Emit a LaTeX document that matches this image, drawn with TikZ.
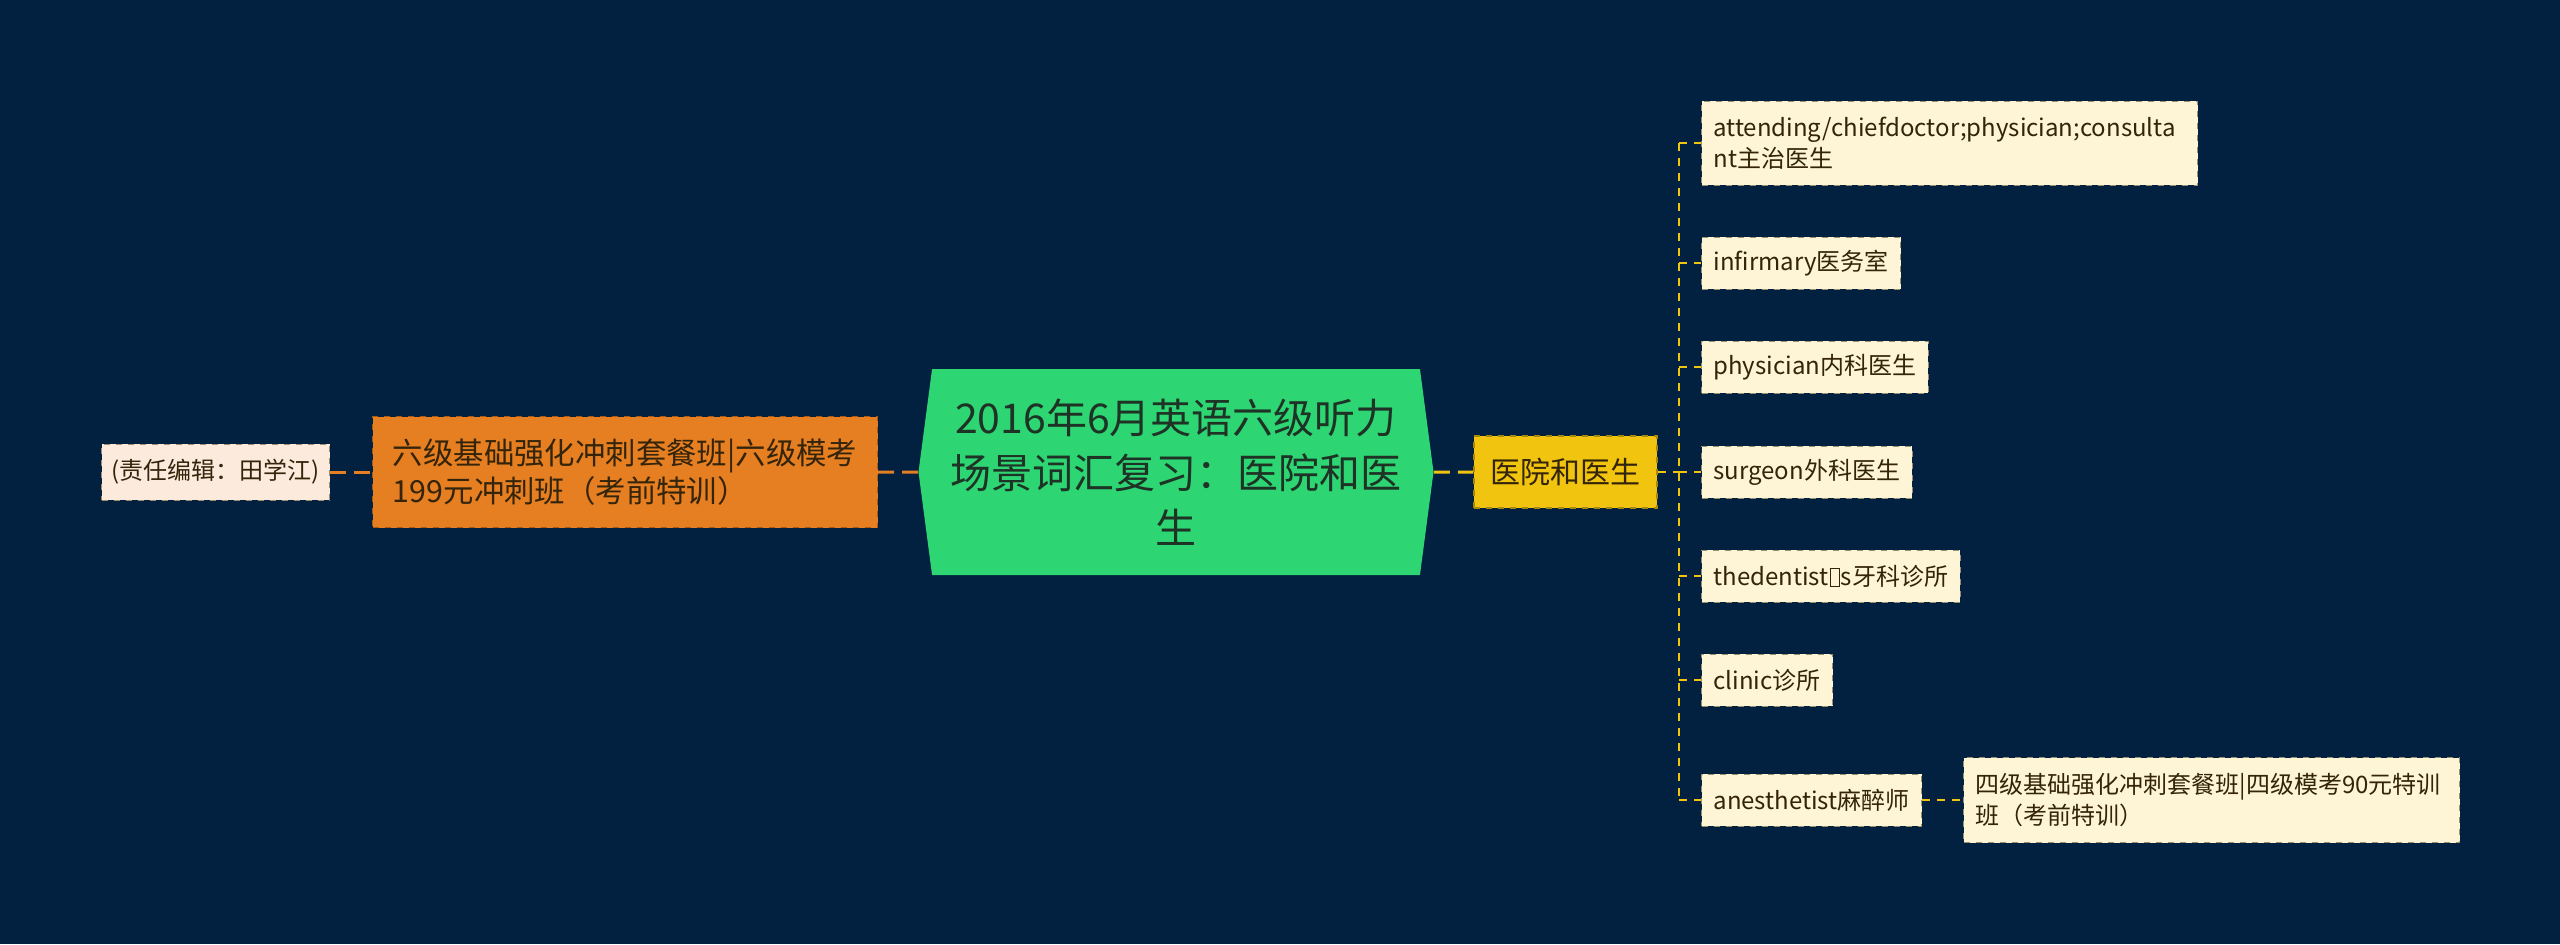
\documentclass[tikz,border=0pt]{standalone}
\usepackage{fontspec}
\setmainfont{Noto Sans CJK SC}
\usepackage{xcolor}
\usetikzlibrary{shapes.symbols,positioning}
\definecolor{mmnavy}{HTML}{022140}
\definecolor{mmgreen}{HTML}{2ED573}
\definecolor{mmroottext}{HTML}{1E3326}
\definecolor{mmorange}{HTML}{E67E22}
\definecolor{mmorangeline}{HTML}{A85A14}
\definecolor{mmyellow}{HTML}{F1C40F}
\definecolor{mmyellowline}{HTML}{A8880A}
\definecolor{mmcream}{HTML}{FEF5D6}
\definecolor{mmblush}{HTML}{FCEBDD}
\definecolor{mmleafline}{HTML}{9A9070}
\definecolor{mmink}{HTML}{33240A}
\newcommand{\glyphbox}{{\setlength{\fboxsep}{0pt}\setlength{\fboxrule}{0.4pt}\kern0.04em\raisebox{-0.02em}{\fbox{\rule{0pt}{0.68em}\hspace{0.36em}}}\kern0.04em}}
\tikzset{
mmroot/.style={signal,signal to=east and west,signal pointer angle=165,fill=mmgreen,text=mmroottext,align=center,minimum width=257.5pt,minimum height=103pt,inner sep=0pt,font=\fontsize{20.5pt}{27.5pt}\selectfont},
mmbranch/.style={rectangle,draw=mmorangeline,dashed,line width=0.6pt,fill=mmorange,text=mmink,align=left,minimum width=252.5pt,minimum height=55.5pt,inner xsep=8pt,font=\fontsize{15.2pt}{18.8pt}\selectfont},
mmtopic/.style={rectangle,draw=mmyellowline,dashed,line width=0.6pt,fill=mmyellow,text=mmink,minimum width=91.5pt,minimum height=36pt,font=\fontsize{15pt}{18.8pt}\selectfont},
mmnote/.style={rectangle,draw=mmleafline,dashed,line width=0.5pt,fill=mmblush,text=mmink,minimum height=28pt,inner xsep=5pt,font=\fontsize{12pt}{15.5pt}\selectfont},
mmleaf/.style={rectangle,draw=mmleafline,dashed,line width=0.5pt,fill=mmcream,text=mmink,align=left,minimum height=26pt,inner xsep=6pt,anchor=west,font=\fontsize{12pt}{15.5pt}\selectfont},
mmlinkorange/.style={draw=mmorange,line width=1.5pt,dash pattern=on 8pt off 4pt},
mmlinkyellow/.style={draw=mmyellow,line width=1.5pt,dash pattern=on 8pt off 4pt},
mmleaflink/.style={draw=mmyellow,line width=0.9pt,dash pattern=on 4pt off 3.5pt}
}
\begin{document}
\begin{tikzpicture}[
x=0.5pt,
y=-0.5pt
]
\fill[mmnavy] (0,0) rectangle (2560,944);
% centre and left side
\node[mmroot] (root) at (1176,472) {2016年6月英语六级听力\\场景词汇复习：医院和医\\生};
\node[mmbranch,anchor=west] (course) at (372,472) {六级基础强化冲刺套餐班|六级模考\\199元冲刺班（考前特训）};
\node[mmnote,anchor=west] (editor) at (101,472) {(责任编辑：田学江)};
% right side
\node[mmtopic] (hospital) at (1565.5,472) {医院和医生};
\coordinate (spine) at (1679,472);
\node[mmleaf,minimum height=42pt,text width=236pt] (attending) at (1701,143) {attending/chiefdoctor;physician;consulta\\nt主治医生};
\node[mmleaf] (infirmary) at (1701,263) {infirmary医务室};
\node[mmleaf] (physician) at (1701,367) {physician内科医生};
\node[mmleaf] (surgeon) at (1701,472) {surgeon外科医生};
\node[mmleaf] (dentist) at (1701,576) {thedentist\glyphbox s牙科诊所};
\node[mmleaf] (clinic) at (1701,680) {clinic诊所};
\node[mmleaf] (anesthetist) at (1701,800) {anesthetist麻醉师};
\node[mmleaf,minimum height=42.5pt,text width=236pt] (band4) at (1963,800) {四级基础强化冲刺套餐班|四级模考90元特训\\班（考前特训）};
\draw[mmlinkorange] (editor) -- (course);
\draw[mmlinkorange] (course) -- (root);
\draw[mmlinkyellow] (root) -- (hospital);
\draw[mmleaflink] (hospital) -- (spine);
\draw[mmleaflink] (spine |- attending.west) -- (spine |- anesthetist.west);
\foreach \leaf in {attending,infirmary,physician,surgeon,dentist,clinic,anesthetist}
  \draw[mmleaflink] (spine |- \leaf.west) -- (\leaf.west);
\draw[mmleaflink] (anesthetist) -- (band4);
\end{tikzpicture}
\end{document}
